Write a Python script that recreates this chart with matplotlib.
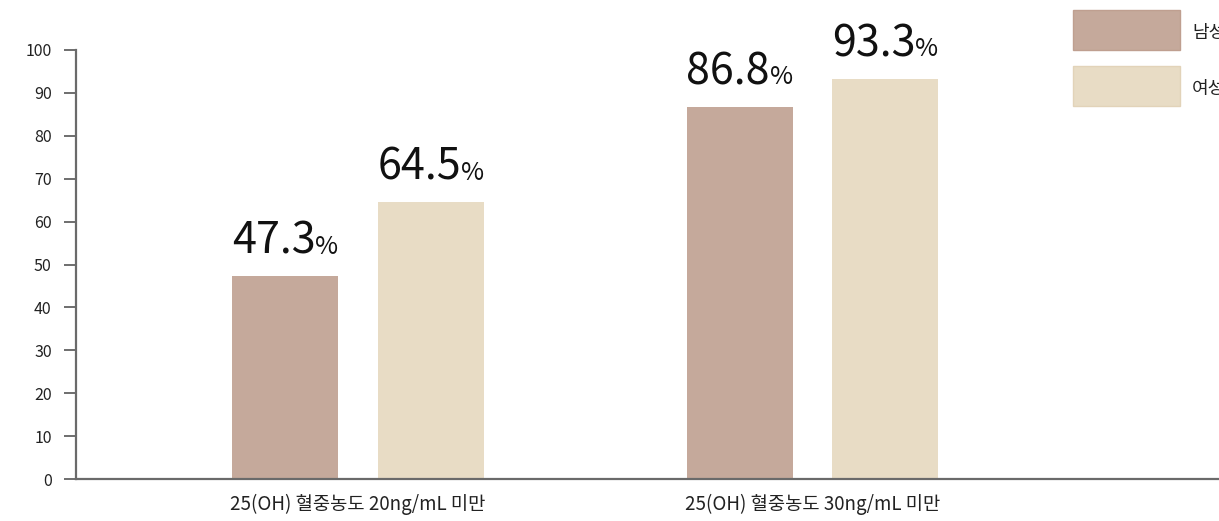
import matplotlib
matplotlib.use("Agg")
import matplotlib.pyplot as plt
from matplotlib.patches import Rectangle
from matplotlib.offsetbox import TextArea, HPacker, AnnotationBbox

plt.rcParams['font.family'] = ['Noto Sans CJK KR', 'DejaVu Sans']

categories = ["25(OH) 혈중농도 20ng/mL 미만", "25(OH) 혈중농도 30ng/mL 미만"]
series_names = ["남성", "여성"]
male = [47.3, 86.8]
female = [64.5, 93.3]
yticks = [0, 10, 20, 30, 40, 50, 60, 70, 80, 90, 100]

colors = ["#c5a99b", "#e8dcc5"]
edge_colors = ["#bf9f90", "#e2d3b9"]

W, H = 1219, 521
fig = plt.figure(figsize=(W / 100, H / 100), dpi=100)
ax = fig.add_axes([76 / W, 42 / H, 1 - 76 / W, 429 / H])

x = [0, 1]
bw = 0.233
off = 0.16
for vals, sign, c in zip([male, female], [-1, 1], colors):
    ax.bar([xi + sign * off for xi in x], vals, width=bw, color=c, linewidth=0)

# value labels: large number with a smaller percent sign
for vals, sign in zip([male, female], [-1, 1]):
    for xi, v in zip(x, vals):
        num = TextArea(f"{v:.1f}", textprops=dict(fontsize=31, color="#111111"))
        pct = TextArea("%", textprops=dict(fontsize=18, color="#111111"))
        box = HPacker(children=[num, pct], align="baseline", pad=0, sep=0)
        ab = AnnotationBbox(box, (xi + sign * off, v), xybox=(0, 9),
                            xycoords="data", boxcoords="offset points",
                            box_alignment=(0.5, 0), frameon=False)
        ax.add_artist(ab)

ax.set_xlim(-0.620, 1.894)
ax.set_ylim(0, 100)
ax.set_yticks(yticks)
ax.set_yticklabels([str(t) for t in yticks], fontsize=11.5, color="#222222")
ax.set_xticks(x)
ax.set_xticklabels(categories, fontsize=13.5, color="#222222")
ax.tick_params(axis="y", length=8.5, width=1.2, color="#555555", pad=9)
ax.tick_params(axis="x", length=0, pad=11)

for s in ["top", "right"]:
    ax.spines[s].set_visible(False)
for s in ["left", "bottom"]:
    ax.spines[s].set_color("#6a6a6a")
    ax.spines[s].set_linewidth(1.6)

# legend boxes at the top right
leg_y = [10, 66]
for name, c, ec, y0 in zip(series_names, colors, edge_colors, leg_y):
    fig.add_artist(Rectangle((1073 / W, 1 - (y0 + 40) / H), 107 / W, 40 / H,
                             transform=fig.transFigure, facecolor=c,
                             edgecolor=ec, linewidth=1))
    fig.text(1192 / W, 1 - (y0 + 23) / H, name, fontsize=13, color="#222222",
             va="center", ha="left")

fig.savefig("out.png", dpi=100)
